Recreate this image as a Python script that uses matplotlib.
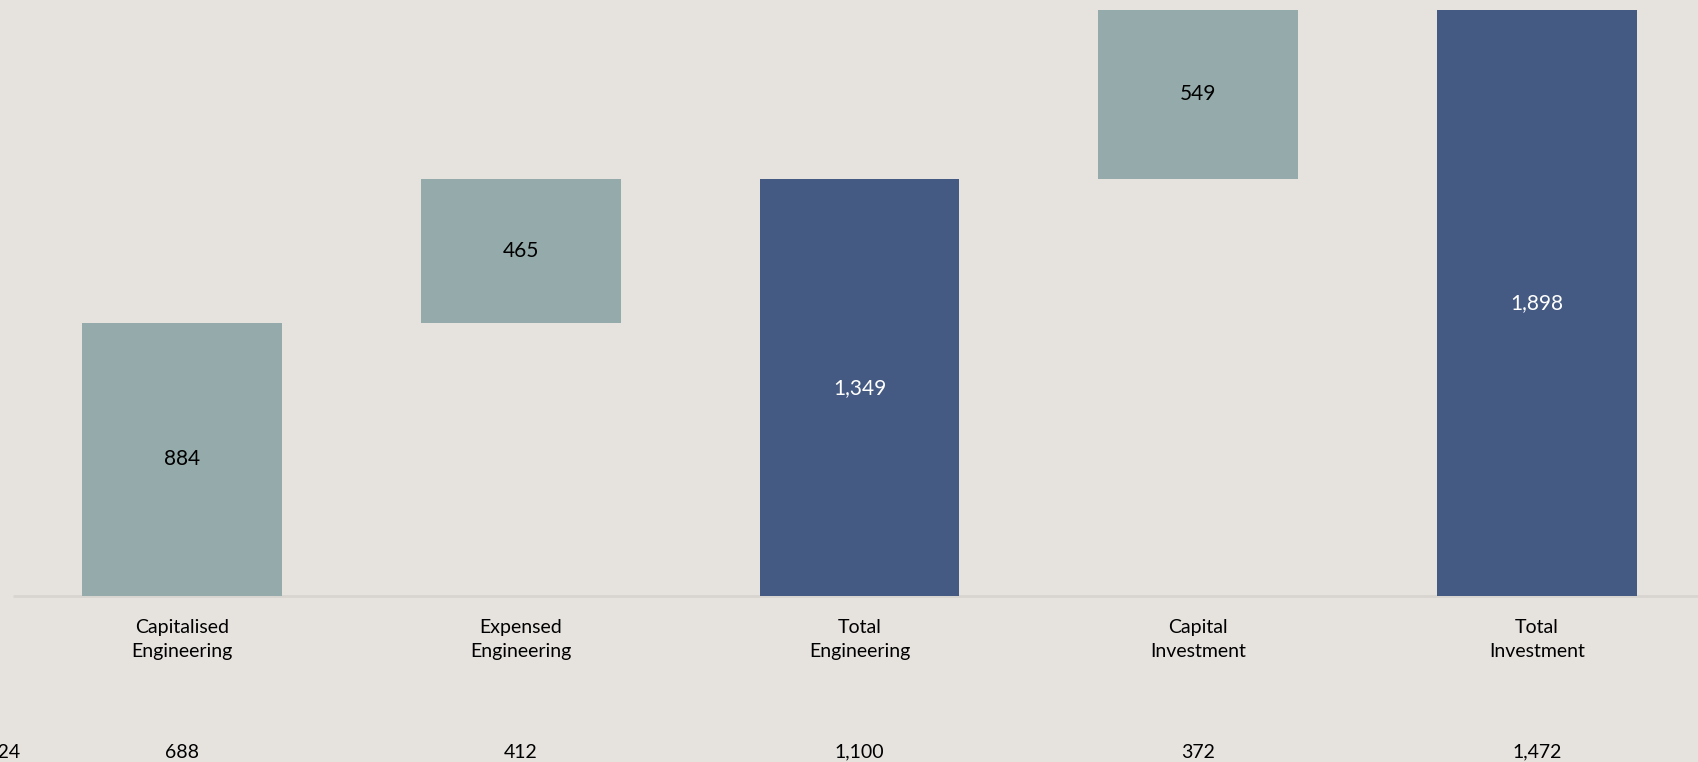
import matplotlib.pyplot as plt

plt.rcParams['font.family'] = ['Lato', 'DejaVu Sans']

categories = ['Capitalised\nEngineering', 'Expensed\nEngineering', 'Total\nEngineering',
              'Capital\nInvestment', 'Total\nInvestment']
values = [884, 465, 1349, 549, 1898]
bottoms = [0, 884, 0, 1349, 0]
is_total = [False, False, True, False, True]
prior = [688, 412, 1100, 372, 1472]
prior_label = '2024'

bg = '#e6e2de'
light = '#95abab'
dark = '#455a82'

fig = plt.figure(figsize=(16.98, 7.62), dpi=100, facecolor=bg)
ax = fig.add_axes([0, 166 / 762, 1, 596 / 762])
ax.set_facecolor(bg)

x = list(range(len(categories)))
colors = [dark if t else light for t in is_total]
ax.bar(x, values, bottom=bottoms, width=0.59, color=colors, zorder=2)

for i, (v, b, t) in enumerate(zip(values, bottoms, is_total)):
    ax.text(i, b + v / 2, f'{v:,}', ha='center', va='center', fontsize=15,
            color='white' if t else 'black', zorder=3)

xmin, xmax = -0.537, 4.475
ax.set_xlim(xmin, xmax)
ax.set_ylim(0, 1929)
ax.hlines(0, -0.5, xmax, color='#d8d4d0', lw=2, zorder=1, clip_on=False)

for i, (c, p) in enumerate(zip(categories, prior)):
    ax.text(i, -140, c, ha='center', va='center', fontsize=14, linespacing=1.5,
            clip_on=False)
    ax.text(i, -505, f'{p:,}', ha='center', va='center', fontsize=14, clip_on=False)
ax.text(-0.478, -505, prior_label, ha='right', va='center', fontsize=14, clip_on=False)

ax.axis('off')
fig.savefig('out.png', dpi=100, facecolor=bg)
